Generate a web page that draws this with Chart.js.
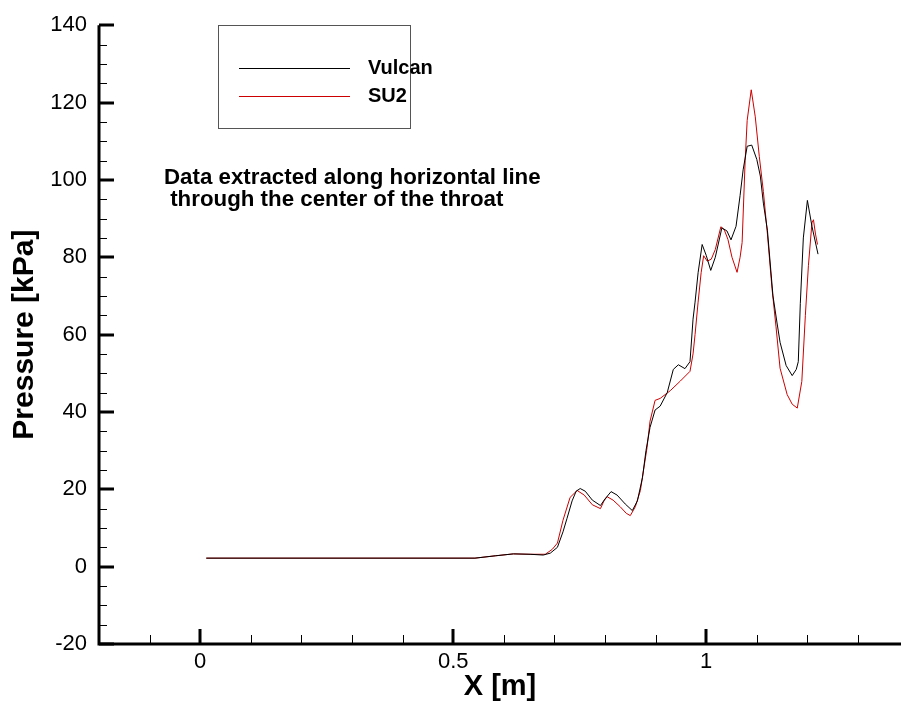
<!DOCTYPE html>
<html>
<head>
<meta charset="utf-8">
<title>Pressure along throat centerline</title>
<script src="https://cdn.jsdelivr.net/npm/chart.js@4.4.1/dist/chart.umd.min.js"></script>
<style>
  html, body { margin: 0; padding: 0; background: #fff; }
  #chart { display: block; }
</style>
</head>
<body>
<canvas id="chart" width="901" height="706"></canvas>
<script>
// Axis tick labels
const X_TICKS = [0, 0.5, 1];
const Y_TICKS = [-20, 0, 20, 40, 60, 80, 100, 120, 140];

// Vulcan (black)
const vulcanX = [0.012, 0.543, 0.583, 0.619, 0.652, 0.678, 0.692, 0.706, 0.717, 0.725, 0.735, 0.743, 0.751,
  0.761, 0.775, 0.791, 0.800, 0.812, 0.824, 0.840, 0.854, 0.864, 0.874, 0.881, 0.889, 0.899, 0.909, 0.923,
  0.935, 0.945, 0.958, 0.968, 0.974, 0.978, 0.984, 0.992, 1.000, 1.009, 1.018, 1.031, 1.041, 1.049, 1.059,
  1.067, 1.073, 1.081, 1.090, 1.100, 1.107, 1.113, 1.121, 1.132, 1.140, 1.146, 1.158, 1.170, 1.178, 1.182,
  1.186, 1.192, 1.200, 1.209, 1.221];
const vulcanP = [2.2, 2.2, 2.8, 3.3, 3.2, 3.0, 3.5, 5.0, 9.0, 12.5, 17.0, 19.5, 20.2,
  19.5, 17.2, 15.8, 17.5, 19.4, 18.5, 16.2, 14.5, 17.0, 23.0, 30.0, 36.0, 40.5, 41.5, 45.0,
  51.0, 52.2, 51.2, 53.0, 64.0, 68.4, 76.0, 83.3, 80.5, 76.6, 80.0, 87.6, 86.8, 84.5, 88.0,
  96.0, 102.6, 108.7, 109.0, 105.3, 101.0, 94.0, 87.0, 70.0, 63.0, 58.0, 52.0, 49.4, 51.0, 53.0,
  68.0, 85.0, 94.7, 88.0, 80.8];

// SU2 (red)
const su2X = [0.012, 0.543, 0.583, 0.619, 0.652, 0.682, 0.696, 0.706, 0.717, 0.731, 0.745, 0.759, 0.775,
  0.791, 0.798, 0.804, 0.816, 0.830, 0.842, 0.850, 0.860, 0.870, 0.883, 0.889, 0.899, 0.909, 0.929, 0.949,
  0.968, 0.974, 0.978, 0.984, 0.990, 0.995, 1.002, 1.010, 1.018, 1.029, 1.036, 1.043, 1.051, 1.061, 1.067,
  1.071, 1.077, 1.081, 1.089, 1.097, 1.105, 1.113, 1.121, 1.130, 1.138, 1.146, 1.160, 1.170, 1.180, 1.189,
  1.196, 1.202, 1.209, 1.212, 1.216, 1.220];
const su2P = [2.2, 2.2, 2.8, 3.3, 3.2, 3.2, 4.5, 6.1, 12.0, 17.9, 19.7, 18.5, 16.0,
  15.0, 17.0, 18.1, 17.2, 15.5, 13.8, 13.2, 15.5, 19.7, 30.7, 37.6, 43.0, 43.5, 45.5, 48.0,
  50.5, 55.0, 60.0, 68.4, 76.0, 80.4, 79.0, 79.5, 82.0, 87.9, 87.0, 84.6, 80.0, 76.1, 80.0,
  83.8, 105.0, 115.4, 123.3, 116.3, 106.0, 97.0, 86.0, 72.0, 62.0, 51.3, 44.5, 42.0, 41.0, 47.9,
  65.0, 77.8, 88.9, 89.7, 86.0, 83.3];

const ANNOTATION = ['Data extracted along horizontal line', ' through the center of the throat'];

function toPoints(xs, ys) {
    return xs.map((x, i) => ({ x, y: ys[i] }));
}

/**
 * Tecplot-style frame: thick axis lines with inward major/minor ticks
 */
const frameAxes = {
    id: 'frameAxes',
    afterDatasetsDraw(chart) {
        const { ctx, chartArea: a, scales: { x, y } } = chart;
        ctx.save();
        ctx.strokeStyle = '#000';

        // minor ticks
        ctx.lineWidth = 1;
        ctx.beginPath();
        for (let v = -0.2; v < x.max; v += 0.1) {
            const px = Math.round(x.getPixelForValue(v)) + 0.5;
            ctx.moveTo(px, a.bottom);
            ctx.lineTo(px, a.bottom - 9);
        }
        for (let v = y.min; v <= y.max; v += 5) {
            const py = Math.round(y.getPixelForValue(v)) + 0.5;
            ctx.moveTo(a.left, py);
            ctx.lineTo(a.left + 8, py);
        }
        ctx.stroke();

        // major ticks
        ctx.lineWidth = 3;
        ctx.beginPath();
        X_TICKS.forEach(v => {
            const px = Math.round(x.getPixelForValue(v));
            ctx.moveTo(px, a.bottom);
            ctx.lineTo(px, a.bottom - 15);
        });
        Y_TICKS.forEach(v => {
            const py = Math.round(y.getPixelForValue(v));
            ctx.moveTo(a.left, py);
            ctx.lineTo(a.left + 15, py);
        });
        ctx.stroke();

        // axis lines
        ctx.beginPath();
        ctx.moveTo(a.left, a.top);
        ctx.lineTo(a.left, a.bottom);
        ctx.lineTo(a.right, a.bottom);
        ctx.stroke();
        ctx.restore();
    }
};

/**
 * Boxed legend and the note text
 */
const boxLegend = {
    id: 'boxLegend',
    afterDraw(chart) {
        const { ctx } = chart;
        ctx.save();
        ctx.strokeStyle = '#555';
        ctx.lineWidth = 1;
        ctx.strokeRect(218.5, 25.5, 192, 103);

        ctx.font = 'bold 20px "Liberation Sans", Arial, sans-serif';
        ctx.textBaseline = 'middle';
        ctx.fillStyle = '#000';
        chart.data.datasets.forEach((ds, i) => {
            const yy = 68 + i * 28 + 0.5;
            ctx.strokeStyle = ds.borderColor;
            ctx.beginPath();
            ctx.moveTo(239, yy);
            ctx.lineTo(350, yy);
            ctx.stroke();
            ctx.fillText(ds.label, 368, yy);
        });

        ctx.font = 'bold 22.3px "Liberation Sans", Arial, sans-serif';
        ANNOTATION.forEach((line, i) => {
            ctx.fillText(line, 164, 178 + i * 22);
        });
        ctx.restore();
    }
};

function initChart() {
    Chart.defaults.font.family = '"Liberation Sans", Arial, sans-serif';
    Chart.defaults.color = '#000';

    const ctx = document.getElementById('chart').getContext('2d');
    new Chart(ctx, {
        type: 'line',
        data: {
            datasets: [
                {
                    label: 'Vulcan',
                    data: toPoints(vulcanX, vulcanP),
                    borderColor: '#000000',
                    borderWidth: 1,
                    pointRadius: 0,
                    tension: 0,
                    fill: false
                },
                {
                    label: 'SU2',
                    data: toPoints(su2X, su2P),
                    borderColor: '#cc0000',
                    borderWidth: 1,
                    pointRadius: 0,
                    tension: 0,
                    fill: false
                }
            ]
        },
        options: {
            responsive: false,
            animation: false,
            layout: { padding: { top: 21, right: 0, bottom: 0, left: 0 } },
            plugins: {
                legend: { display: false },
                tooltip: { enabled: false }
            },
            scales: {
                x: {
                    type: 'linear',
                    min: -0.2,
                    max: 1.385,
                    afterBuildTicks: s => { s.ticks = X_TICKS.map(v => ({ value: v })); },
                    afterFit: s => { s.height = 62; },
                    grid: { display: false, drawTicks: false },
                    border: { display: false },
                    ticks: {
                        padding: 5,
                        font: { size: 22 },
                        callback: v => String(v)
                    },
                    title: {
                        display: true,
                        text: 'X [m]',
                        font: { size: 29, weight: 'bold' },
                        padding: { top: 0, bottom: 2 }
                    }
                },
                y: {
                    min: -20,
                    max: 140,
                    afterBuildTicks: s => { s.ticks = Y_TICKS.map(v => ({ value: v })); },
                    afterFit: s => { s.width = 99; },
                    grid: { display: false, drawTicks: false },
                    border: { display: false },
                    ticks: {
                        padding: 12,
                        font: { size: 22 }
                    },
                    title: {
                        display: true,
                        text: 'Pressure [kPa]',
                        font: { size: 30, weight: 'bold' },
                        padding: { top: 7, bottom: 0 }
                    }
                }
            }
        },
        plugins: [frameAxes, boxLegend]
    });
}

document.addEventListener('DOMContentLoaded', initChart);
</script>
</body>
</html>
